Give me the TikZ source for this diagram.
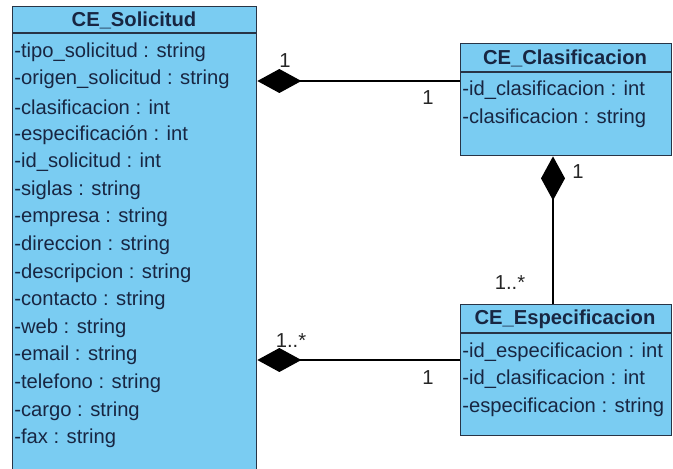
\documentclass[tikz,border=0pt]{standalone}
\usepackage{fontspec}
\setmainfont{Liberation Sans}
\usetikzlibrary{arrows.meta,positioning,calc}

\definecolor{azulclase}{RGB}{122,204,242}
\definecolor{borde}{RGB}{40,52,70}
\definecolor{texto}{RGB}{24,38,66}

\tikzset{
  clase/.style={draw=borde, fill=azulclase, line width=0.8pt, inner sep=0pt, anchor=north west},
  titulo/.style={font=\fontsize{11.5}{13}\selectfont\bfseries, text=texto, inner sep=0pt},
  atrib/.style={font=\fontsize{11.5}{13}\selectfont, text=texto, anchor=west, inner sep=0pt},
  comp/.style={draw=black, line width=0.8pt, {Diamond[length=0.88cm,width=0.48cm]}-},
  mult/.style={font=\fontsize{11.5}{13}\selectfont, text=black!85, inner sep=0pt},
}

\begin{document}
\begin{tikzpicture}[x=0.02cm,y=-0.02cm]
    \useasboundingbox (0,0) rectangle (673,469);
    \clip (0,0) rectangle (673,469);

    % clases
    \node[clase, minimum width=4.88cm, minimum height=9.8cm] (sol) at (12,6) {};
    \node[clase, minimum width=4.22cm, minimum height=2.24cm] (cla) at (460,43) {};
    \node[clase, minimum width=4.22cm, minimum height=2.62cm] (esp) at (460,304) {};

    % cabeceras
    \draw[borde, line width=0.8pt] (sol.west |- 0,33) -- (sol.east |- 0,33);
    \draw[borde, line width=0.8pt] (cla.west |- 0,72) -- (cla.east |- 0,72);
    \draw[borde, line width=0.8pt] (esp.west |- 0,333) -- (esp.east |- 0,333);
    \node[titulo] (solT) at (134,20) {CE\_Solicitud};
    \node[titulo] (claT) at (565,58) {CE\_Clasificacion};
    \node[titulo] (espT) at (565,319) {CE\_Especificacion};

    % atributos
    \foreach \t [count=\i from 0] in {-tipo\_solicitud : string, -origen\_solicitud : string,
        -clasificacion : int, -especificación : int, -id\_solicitud : int, -siglas : string,
        -empresa : string, -direccion : string, -descripcion : string, -contacto : string,
        -web : string, -email : string, -telefono : string, -cargo : string, -fax : string}
      \node[atrib] (solA\i) at (14,{52+27.6*\i}) {\t};
    \foreach \t [count=\i from 0] in {-id\_clasificacion : int, -clasificacion : string}
      \node[atrib] (claA\i) at (462,{90+27.8*\i}) {\t};
    \foreach \t [count=\i from 0] in {-id\_especificacion : int, -id\_clasificacion : int,
        -especificacion : string}
      \node[atrib] (espA\i) at (462,{352+27.6*\i}) {\t};

    % composiciones
    \coordinate (c1) at (cla.west |- 0,81);
    \coordinate (c2) at (esp.west |- 0,360);
    \coordinate (c3) at (cla.south -| 553,0);
    \coordinate (c4) at (esp.north -| 553,0);
    \draw[comp] (sol.east |- c1) -- (c1);
    \draw[comp] (sol.east |- c2) -- (c2);
    \draw[comp] (c3) -- (c4);

    % multiplicidades
    \node[mult] (m1) at (285,61) {1};
    \node[mult] (m2) at (428,98) {1};
    \node[mult] (m3) at (291,341) {1..*};
    \node[mult] (m4) at (428,378) {1};
    \node[mult] (m5) at (578,172) {1};
    \node[mult] (m6) at (510,283) {1..*};
\end{tikzpicture}
\end{document}
